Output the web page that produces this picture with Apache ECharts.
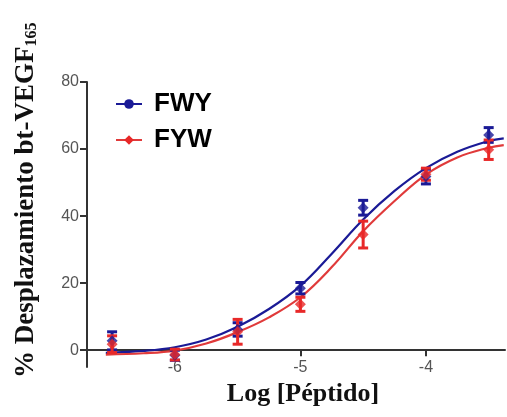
<!DOCTYPE html>
<html><head><meta charset="utf-8">
<script src="https://cdn.jsdelivr.net/npm/echarts@6/dist/echarts.min.js"></script>
<style>html,body{margin:0;padding:0;background:#fff}#c{width:507px;height:417px}</style>
</head><body><div id="c"></div>
<script>
// Measured points
const logX = [-6.5, -6, -5.5, -5, -4.5, -4, -3.5];
const fwyMean = [2.8, -1.5, 6.2, 18.5, 42.5, 51.8, 64.2];
const fwyErr  = [2.7, 1.5, 2.0, 1.7, 2.2, 2.2, 2.2];
const fywMean = [1.8, -1.3, 5.5, 13.7, 34.5, 52.5, 59.8];
const fywErr  = [2.5, 1.6, 3.7, 2.1, 4.0, 1.8, 2.9];
// Fitted curves
const curveX   = [-6.55, -6.25, -6, -5.75, -5.5, -5.25, -5, -4.75, -4.5, -4.25, -4, -3.75, -3.5, -3.38];
const fwyCurve = [-0.8, -0.2, 0.9, 3.2, 7.0, 12.3, 19.2, 28.8, 39.0, 47.5, 54.3, 59.2, 62.4, 63.2];
const fywCurve = [-1.3, -0.9, -0.1, 2.0, 5.4, 9.8, 15.8, 24.8, 35.5, 44.5, 52.4, 57.5, 60.4, 61.2];
const xTicks = [-6, -5, -4];
const yTicks = [0, 20, 40, 60, 80];

const BLUE = '#1a1a96', RED = '#e82828';
const zip = (a, b) => a.map((v, i) => [v, b[i]]);
function errSeries(name, mean, err, color) {
  return {
    name: name, type: 'custom', z: 4,
    data: logX.map((x, i) => [x, mean[i] - err[i], mean[i] + err[i]]),
    renderItem: function (params, api) {
      const lo = api.coord([api.value(0), api.value(1)]);
      const hi = api.coord([api.value(0), api.value(2)]);
      const w = 5;
      const st = { stroke: color, lineWidth: 3 };
      return { type: 'group', children: [
        { type: 'line', shape: { x1: lo[0], y1: lo[1], x2: hi[0], y2: hi[1] }, style: st },
        { type: 'line', shape: { x1: lo[0] - w, y1: lo[1], x2: lo[0] + w, y2: lo[1] }, style: st },
        { type: 'line', shape: { x1: hi[0] - w, y1: hi[1], x2: hi[0] + w, y2: hi[1] }, style: st }
      ]};
    }
  };
}
const chart = echarts.init(document.getElementById('c'), null, { renderer: 'canvas' });
chart.setOption({
  animation: false,
  backgroundColor: '#fff',
  grid: { left: 87, right: 2, top: 82, bottom: 50, containLabel: false },
  legend: {
    left: 110, top: 86, orient: 'vertical', itemGap: 10,
    itemWidth: 26, itemHeight: 12,
    data: ['FWY', 'FYW'],
    textStyle: { fontFamily: 'Liberation Sans, Arial', fontWeight: 'bold', fontSize: 26, color: '#000', padding: [0, 0, 0, 7] }
  },
  xAxis: {
    type: 'value', min: -6.7, max: -3.37,
    axisLine: { onZero: true, lineStyle: { color: '#333', width: 2 } },
    axisTick: { show: true, customValues: xTicks, length: 6, lineStyle: { color: '#333', width: 2 } },
    axisLabel: { customValues: xTicks, color: '#555', fontSize: 16, fontFamily: 'Liberation Sans, Arial', margin: -7 },
    splitLine: { show: false }
  },
  yAxis: {
    type: 'value', min: -5, max: 80,
    axisLine: { show: true, onZero: false, lineStyle: { color: '#333', width: 2 } },
    axisTick: { show: true, customValues: yTicks, length: 7, lineStyle: { color: '#333', width: 2 } },
    axisLabel: { customValues: yTicks, color: '#555', fontSize: 16, fontFamily: 'Liberation Sans, Arial', margin: 8 },
    splitLine: { show: false }
  },
  graphic: [
    { type: 'text', x: 303, y: 381,
      style: { text: 'Log [Péptido]', align: 'center', verticalAlign: 'top',
        font: 'bold 26px "Liberation Serif", "Times New Roman", serif', fill: '#111' } },
    { type: 'text', x: 12, y: 378, rotation: Math.PI / 2,
      style: { text: '{a|% Desplazamiento bt-VEGF}{s|165}',
        rich: {
          a: { font: 'bold 27px "Liberation Serif", "Times New Roman", serif', fill: '#111' },
          s: { font: 'bold 16px "Liberation Serif", "Times New Roman", serif', fill: '#111', padding: [12, 0, 0, 0] }
        } } }
  ],
  series: [
    { name: 'FWY', type: 'line', data: zip(curveX, fwyCurve), smooth: 0.4, showSymbol: false,
      symbol: 'circle', symbolSize: 8, color: BLUE, lineStyle: { color: BLUE, width: 2.2 }, z: 3 },
    { name: 'FYW', type: 'line', data: zip(curveX, fywCurve), smooth: 0.4, showSymbol: false,
      symbol: 'diamond', symbolSize: 9, color: RED, lineStyle: { color: '#e03a3a', width: 2.2 }, z: 3 },
    errSeries('fwyErr', fwyMean, fwyErr, BLUE),
    errSeries('fywErr', fywMean, fywErr, RED),
    { name: 'fwyPts', type: 'scatter', data: zip(logX, fwyMean), symbol: 'diamond', symbolSize: 11, itemStyle: { color: BLUE }, z: 5 },
    { name: 'fywPts', type: 'scatter', data: zip(logX, fywMean), symbol: 'diamond', symbolSize: 11, itemStyle: { color: RED }, z: 6 }
  ]
});
</script></body></html>
